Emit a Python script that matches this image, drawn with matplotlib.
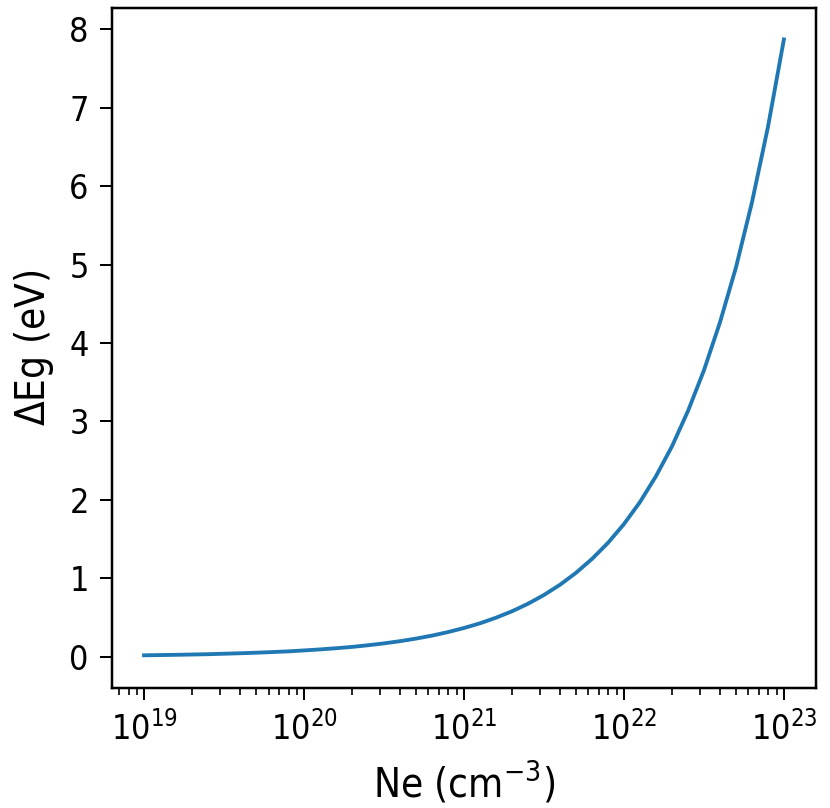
import numpy as np
import matplotlib
matplotlib.use("Agg")
import matplotlib.pyplot as plt

# electron density exponents (cm^-3), tenth-decade steps
ne_exp = [19.0, 19.1, 19.2, 19.3, 19.4, 19.5, 19.6, 19.7, 19.8, 19.9,
          20.0, 20.1, 20.2, 20.3, 20.4, 20.5, 20.6, 20.7, 20.8, 20.9,
          21.0, 21.1, 21.2, 21.3, 21.4, 21.5, 21.6, 21.7, 21.8, 21.9,
          22.0, 22.1, 22.2, 22.3, 22.4, 22.5, 22.6, 22.7, 22.8, 22.9, 23.0]
# band gap shift (eV)
delta_eg = [0.017, 0.020, 0.023, 0.027, 0.031, 0.037, 0.043, 0.050, 0.058, 0.067,
            0.079, 0.092, 0.107, 0.124, 0.145, 0.169, 0.197, 0.230, 0.268, 0.313,
            0.365, 0.425, 0.496, 0.578, 0.674, 0.786, 0.916, 1.068, 1.245, 1.45,
            1.69, 1.97, 2.30, 2.68, 3.13, 3.65, 4.26, 4.96, 5.79, 6.75, 7.87]

ne = [10 ** e for e in ne_exp]

s = 2.4
plt.rcParams['font.family'] = ['DejaVu Sans']
plt.rcParams['font.stretch'] = 'condensed'
plt.rcParams['axes.linewidth'] = 0.75 * s
plt.rcParams['xtick.major.size'] = 3.5 * s
plt.rcParams['ytick.major.size'] = 3.5 * s
plt.rcParams['xtick.minor.size'] = 2 * s
plt.rcParams['xtick.major.width'] = 0.6 * s
plt.rcParams['ytick.major.width'] = 0.6 * s
plt.rcParams['xtick.minor.width'] = 0.5 * s
plt.rcParams['xtick.major.pad'] = 3.5 * s
plt.rcParams['ytick.major.pad'] = 3.5 * s

fig = plt.figure(figsize=(8.3, 8.08), dpi=100)
ax = fig.add_axes([0.135, 0.149, 0.848, 0.841])
ax.plot(ne, delta_eg, color='#1f77b4', linewidth=1.15 * s)
ax.set_xscale('log')
ax.set_xlabel(r'Ne (cm$^{-3}$)', fontsize=29, labelpad=4 * s)
ax.set_ylabel(r'$\Delta$Eg (eV)', fontsize=29, labelpad=4 * s)
ax.set_yticks(range(0, 9))
ax.set_ylim(-0.395, 8.27)
ax.tick_params(axis='both', labelsize=24.5)

fig.savefig('out.png', dpi=100)
